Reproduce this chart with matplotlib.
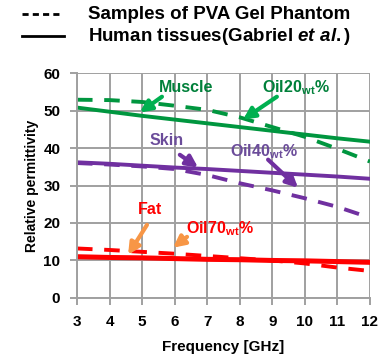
import numpy as np
import matplotlib
matplotlib.use("Agg")
import matplotlib.pyplot as plt
from matplotlib.lines import Line2D

plt.rcParams['font.family'] = ['Liberation Sans', 'DejaVu Sans']
plt.rcParams['mathtext.fontset'] = 'custom'
plt.rcParams['mathtext.rm'] = 'Liberation Sans:bold'
plt.rcParams['mathtext.bf'] = 'Liberation Sans:bold'
plt.rcParams['mathtext.it'] = 'Liberation Sans:bold:italic'

# Data
freq = [3, 4, 5, 6, 7, 8, 9, 10, 11, 12]

muscle_human = [50.8, 49.7, 48.6, 47.6, 46.6, 45.6, 44.6, 43.6, 42.6, 41.7]
muscle_pva = [52.9, 52.8, 52.3, 51.3, 50.2, 48.2, 45.6, 43.0, 39.8, 36.4]

skin_human = [36.2, 35.8, 35.3, 34.8, 34.4, 33.9, 33.4, 32.9, 32.4, 31.8]
skin_pva = [36.0, 35.6, 35.1, 34.4, 32.8, 30.6, 28.7, 26.6, 24.3, 21.4]

fat_human = [11.0, 10.8, 10.7, 10.5, 10.3, 10.2, 10.0, 9.9, 9.7, 9.5]
fat_pva = [13.2, 12.8, 12.3, 11.8, 11.2, 10.6, 10.0, 9.2, 8.1, 7.2]

green = '#00963f'
purple = '#7030a0'
red = '#ff0000'

fig = plt.figure(figsize=(3.83, 3.62), dpi=100)
ax = fig.add_axes([0.201, 0.177, 0.765, 0.621])

lw = 2.8
ax.plot(freq, muscle_human, color=green, lw=lw, solid_capstyle='round')
ax.plot(freq, muscle_pva, color=green, lw=lw, dashes=(4, 3))
ax.plot(freq, skin_human, color=purple, lw=lw)
ax.plot(freq, skin_pva, color=purple, lw=lw, dashes=(4, 3))
ax.plot(freq, fat_human, color=red, lw=lw + 0.8)
ax.plot(freq, fat_pva, color=red, lw=lw, dashes=(4, 3))

ax.set_xlim(3, 12)
ax.set_ylim(0, 60)
ax.set_xticks(range(3, 13))
ax.set_yticks(range(0, 61, 10))
ax.grid(True, color='#a0a0a0', lw=1.4)
ax.set_axisbelow(True)
for s in ['top', 'right']:
    ax.spines[s].set_visible(False)
for s in ['left', 'bottom']:
    ax.spines[s].set_color('#a0a0a0')
    ax.spines[s].set_linewidth(1.4)
ax.tick_params(colors='#a0a0a0', length=5, width=1.4, labelcolor='black',
               labelsize=11, pad=7)
for lab in ax.get_xticklabels() + ax.get_yticklabels():
    lab.set_fontweight('bold')

ax.set_xlabel('Frequency [GHz]', fontsize=11, fontweight='bold', labelpad=8)
ax.set_ylabel('Relative permittivity', fontsize=10, fontweight='bold', labelpad=3)

# annotations
arrow_lw = 3
def note(txt, xy, xytext, tcolor, acolor, tpos):
    ax.annotate('', xy=xy, xytext=xytext,
                arrowprops=dict(arrowstyle='-|>', lw=arrow_lw, color=acolor,
                                mutation_scale=17, shrinkA=0, shrinkB=0))
    ax.text(tpos[0], tpos[1], txt, color=tcolor, fontsize=11.5, fontweight='bold',
            ha='center', va='center')

note('Muscle', (4.93, 49.5), (5.61, 53.7), '#00803a', '#00b050', (6.35, 56.1))
note(r'Oil20$_{\mathrm{wt}}$%', (8.10, 47.6), (9.14, 53.7), '#00803a', '#00b050', (9.73, 56.1))
note('Skin', (6.72, 34.8), (6.16, 38.2), '#6b4c9a', purple, (5.76, 42.0))
note(r'Oil40$_{\mathrm{wt}}$%', (9.79, 29.4), (8.87, 36.9), '#6b4c9a', purple, (8.73, 39.0))
note('Fat', (4.57, 11.5), (5.15, 19.5), red, '#f79646', (5.24, 23.5))
note(r'Oil70$_{\mathrm{wt}}$%', (5.95, 13.4), (6.38, 16.3), red, '#f79646', (7.38, 18.4))

# legend drawn on the figure
fig.add_artist(Line2D([22 / 383, 62 / 383], [0.961, 0.961], color='black',
                      lw=2, dashes=(2.2, 1.5)))
fig.add_artist(Line2D([22 / 383, 64 / 383], [0.900, 0.900], color='black', lw=2))
fig.text(88 / 383, 0.961, 'Samples of PVA Gel Phantom', fontsize=13.5,
         fontweight='bold', va='center', ha='left')
fig.text(88 / 383, 0.900, r'Human tissues(Gabriel $\mathit{et\ al.}$)', fontsize=13.5,
         fontweight='bold', va='center', ha='left')

fig.savefig('out.png', dpi=100)
